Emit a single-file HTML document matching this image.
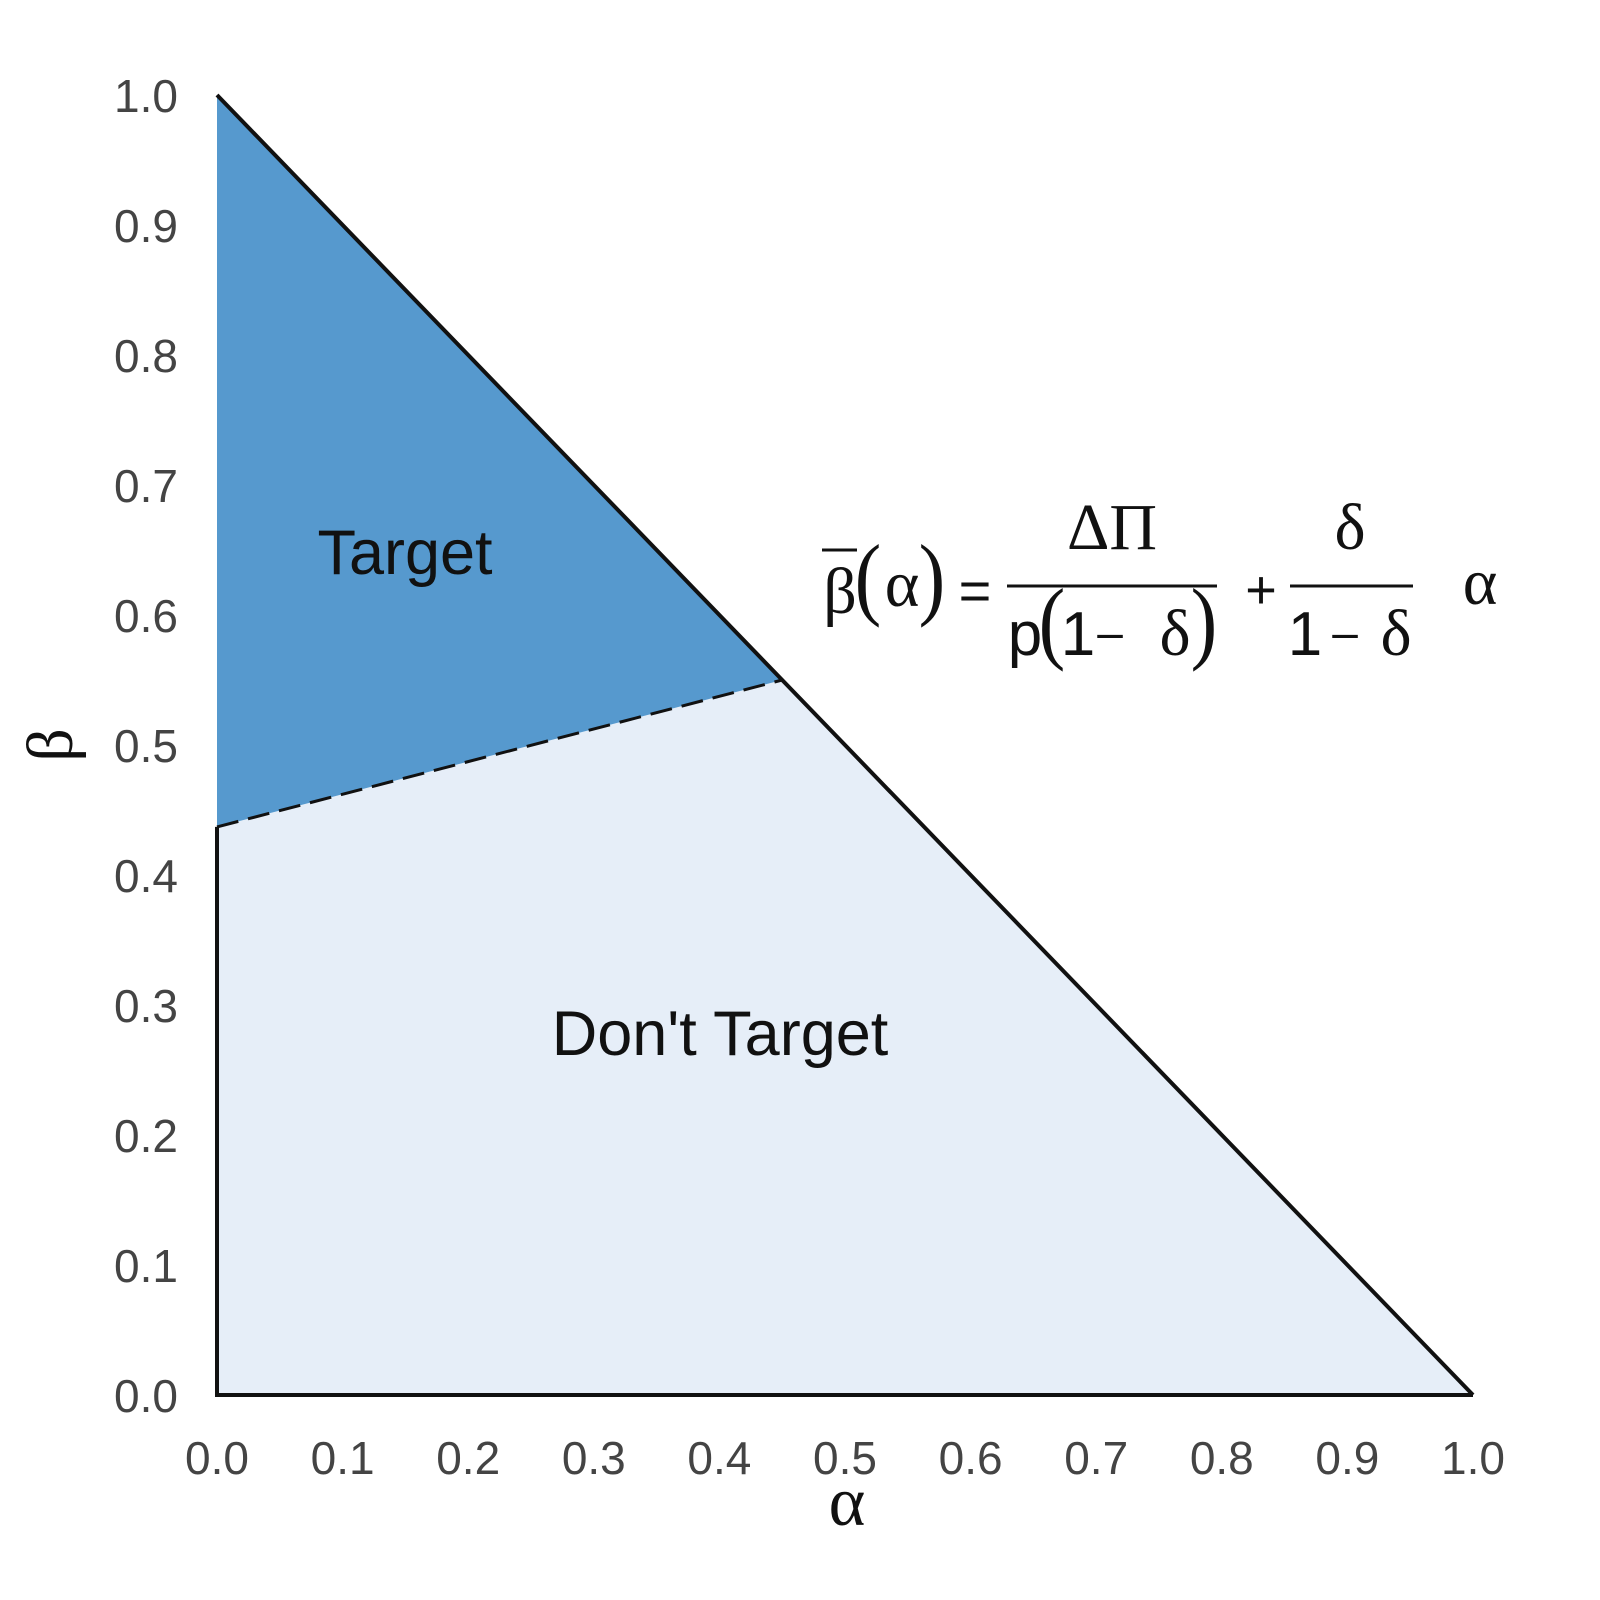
<!DOCTYPE html>
<html><head><meta charset="utf-8"><style>body{margin:0;background:#fff}svg{display:block}</style></head>
<body>
<svg id="chart" width="1600" height="1600" viewBox="0 0 1600 1600" xmlns="http://www.w3.org/2000/svg">
<g id="regions"></g>
<g id="ticks" font-family="Liberation Sans, sans-serif" font-size="46" fill="#444"></g>
<text x="405" y="574" font-family="Liberation Sans, sans-serif" font-size="63" text-anchor="middle" fill="#111">Target</text>
<text x="720" y="1055" font-family="Liberation Sans, sans-serif" font-size="63" text-anchor="middle" fill="#111">Don't Target</text>
<text x="847" y="1525" font-family="Liberation Serif, serif" font-size="70" text-anchor="middle" fill="#111">α</text>
<text transform="translate(72,745) rotate(-90)" font-family="Liberation Serif, serif" font-size="66" text-anchor="middle" fill="#111">β</text>
<g fill="#111" text-anchor="middle">
 <text x="840" y="613" font-family="Liberation Serif, serif" font-size="66">β</text>
 <line x1="822" y1="550" x2="857" y2="550" stroke="#111" stroke-width="3"/>
 <text x="868" y="608" font-family="Liberation Serif, serif" font-size="80" transform="translate(868,608) scale(1,1.15) translate(-868,-608)">(</text>
 <text x="902" y="606" font-family="Liberation Serif, serif" font-size="66">α</text>
 <text x="932" y="608" font-family="Liberation Serif, serif" font-size="80" transform="translate(932,608) scale(1,1.15) translate(-932,-608)">)</text>
 <text x="975" y="610" font-family="Liberation Sans, sans-serif" font-size="56">=</text>
 <line x1="1007" y1="586" x2="1217" y2="586" stroke="#111" stroke-width="3"/>
 <text x="1112" y="549" font-family="Liberation Serif, serif" font-size="66">ΔΠ</text>
 <text x="1025" y="655" font-family="Liberation Sans, sans-serif" font-size="62">p</text>
 <text x="1052" y="652" font-family="Liberation Serif, serif" font-size="80" transform="translate(1052,652) scale(1,1.15) translate(-1052,-652)">(</text>
 <text x="1078" y="655" font-family="Liberation Sans, sans-serif" font-size="62">1</text>
 <text x="1110" y="648" font-family="Liberation Sans, sans-serif" font-size="46">–</text>
 <text x="1175" y="655" font-family="Liberation Serif, serif" font-size="66">δ</text>
 <text x="1204" y="652" font-family="Liberation Serif, serif" font-size="80" transform="translate(1204,652) scale(1,1.15) translate(-1204,-652)">)</text>
 <text x="1261" y="608" font-family="Liberation Sans, sans-serif" font-size="54">+</text>
 <line x1="1290" y1="586" x2="1413" y2="586" stroke="#111" stroke-width="3"/>
 <text x="1350" y="549" font-family="Liberation Serif, serif" font-size="66">δ</text>
 <text x="1305" y="655" font-family="Liberation Sans, sans-serif" font-size="62">1</text>
 <text x="1345" y="648" font-family="Liberation Sans, sans-serif" font-size="46">–</text>
 <text x="1396" y="655" font-family="Liberation Serif, serif" font-size="66">δ</text>
 <text x="1480" y="604" font-family="Liberation Serif, serif" font-size="66">α</text>
</g>
</svg>
<script>
const xTicks=[0,0.1,0.2,0.3,0.4,0.5,0.6,0.7,0.8,0.9,1.0];
const yTicks=[0,0.1,0.2,0.3,0.4,0.5,0.6,0.7,0.8,0.9,1.0];
const thresholdIntercept=[0.437];
const thresholdEnd=[0.45,0.55];
const X=v=>217+v*1256, Y=v=>1395-v*1300;
const NS='http://www.w3.org/2000/svg';
function mk(t,a,p){const e=document.createElementNS(NS,t);for(const k in a)e.setAttribute(k,a[k]);p.appendChild(e);return e;}
const R=document.getElementById('regions');
const b0=thresholdIntercept[0],ax=thresholdEnd[0],ay=thresholdEnd[1];
const light=mk('polygon',{points:`${X(0)},${Y(0)} ${X(1)},${Y(0)} ${X(ax)},${Y(ay)} ${X(0)},${Y(b0)}`,fill:'#e6eef8'},R);


const dark=mk('polygon',{points:`${X(0)},${Y(b0)} ${X(ax)},${Y(ay)} ${X(0)},${Y(1)}`,fill:'#5699ce'},R);


const dash=mk('line',{x1:X(0),y1:Y(b0),x2:X(ax),y2:Y(ay),stroke:'#111','stroke-width':3,'stroke-dasharray':'22,10'},R);


const diag=mk('line',{x1:X(0),y1:Y(1),x2:X(1),y2:Y(0),stroke:'#111','stroke-width':4},R);


const xa=mk('line',{x1:X(0)-2,y1:Y(0),x2:X(1),y2:Y(0),stroke:'#111','stroke-width':4},R);


const ya=mk('line',{x1:X(0),y1:Y(0)+2,x2:X(0),y2:Y(b0),stroke:'#111','stroke-width':4},R);


const T=document.getElementById('ticks');
xTicks.forEach(v=>{const t=mk('text',{x:X(v),y:1474,'text-anchor':'middle'},T);t.textContent=v.toFixed(1);

});
yTicks.forEach(v=>{const t=mk('text',{x:178,y:Y(v)+17,'text-anchor':'end'},T);t.textContent=v.toFixed(1);

});
</script>
</body></html>
